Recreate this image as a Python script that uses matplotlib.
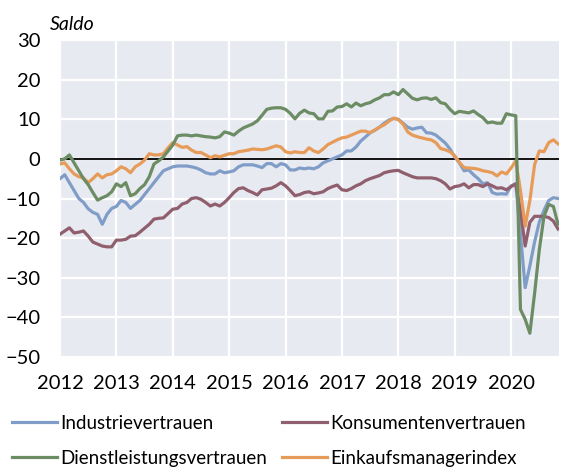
import numpy as np
import matplotlib
matplotlib.use('Agg')
import matplotlib.pyplot as plt

# monthly values Jan 2012 - Nov 2020
industrie = [
    -5, -4, -6, -8, -10, -11, -12.6, -13.5, -14, -16.5, -14, -12.5,
    -12, -10.5, -11, -12.5, -11.5, -10.5, -9, -7.5, -6, -4.5, -3, -2.5,
    -2, -1.8, -1.8, -1.8, -2.0, -2.3, -2.8, -3.5, -3.8, -3.8, -3.0, -3.5,
    -3.3, -3.0, -2.0, -1.5, -1.5, -1.5, -1.8, -2.2, -1.2, -1.2, -2.0, -1.2,
    -1.5, -2.8, -2.8, -2.3, -2.5, -2.3, -2.5, -2.0, -1.0, -0.5, 0.0, 0.5,
    1.0, 2.0, 2.0, 3.0, 4.5, 5.5, 6.6, 7.2, 8.0, 9.0, 9.8, 10.2,
    10.0, 9.0, 8.0, 7.5, 7.8, 8.0, 6.6, 6.5, 6.0, 5.0, 4.0, 2.5,
    0.5, -1.0, -3.0, -2.8, -4.0, -5.0, -6.3, -6.0, -8.5, -8.9, -8.8, -8.9,
    -6.8, -6.3, -19, -32.5, -27, -21, -16, -13, -10.5, -9.8, -10,
]
konsumenten = [
    -19, -18.2, -17.4, -18.7, -18.5, -18.2, -19.5, -21, -21.5, -22, -22.2, -22.2,
    -20.5, -20.5, -20.3, -19.5, -19.4, -18.5, -17.5, -16.5, -15.2, -15, -14.9, -13.8,
    -12.7, -12.5, -11.4, -11, -10, -9.8, -10.2, -11.0, -11.9, -11.4, -11.9, -11,
    -9.8, -8.5, -7.5, -7.3, -8, -8.5, -9.1, -7.8, -7.6, -7.4, -6.8, -6.0,
    -6.8, -8, -9.3, -9, -8.5, -8.3, -8.8, -8.6, -8.3, -7.5, -7, -6.6,
    -7.8, -8, -7.5, -6.8, -6.3, -5.5, -5.0, -4.6, -4.2, -3.5, -3.2, -3.0,
    -2.9, -3.5, -4.0, -4.5, -4.8, -4.8, -4.8, -4.8, -5.0, -5.5, -6.3, -7.6,
    -7.0, -6.8, -6.3, -7.3, -6.5, -6.5, -7.0, -6.3, -6.8, -7.4, -7.3, -7.8,
    -7.0, -6.3, -13, -22, -16, -14.5, -14.5, -14.5, -14.8, -15.7, -17.7,
]
dienstleistung = [
    -0.3, 0, 1, -1, -3, -5, -6.5, -8.5, -10.4, -9.8, -9.3, -8.3,
    -6.3, -7, -6.0, -9.3, -8.8, -7.5, -6.5, -4.5, -1.3, -0.5, 0.5, 2,
    3.5, 5.8, 6, 6, 5.8, 6, 5.8, 5.6, 5.5, 5.3, 5.6, 6.8,
    6.5, 6, 7, 7.8, 8.3, 8.8, 9.6, 11, 12.5, 12.8, 12.9, 12.9,
    12.5, 11.5, 10.1, 11.5, 12.3, 11.6, 11.4, 10.1, 10.1, 12.0, 12.1, 13.1,
    13.2, 13.9, 13.1, 14.1, 13.4, 13.9, 14.2, 14.9, 15.4, 16.2, 16.2, 16.9,
    16.2, 17.5, 16.4, 15.3, 14.9, 15.3, 15.4, 15.0, 15.4, 14.2, 13.9, 12.5,
    11.4, 12.0, 11.8, 11.6, 12.1, 11.2, 10.4, 9.1, 9.3, 9.0, 9.0, 11.4,
    11.1, 10.9, -38, -40.5, -44, -34, -23, -14.5, -11.5, -12, -16.5,
]
einkauf = [
    -1.3, -1.0, -2.5, -3.8, -4.5, -4.8, -6.0, -5.0, -3.8, -4.8, -4.0, -3.8,
    -3.0, -2.0, -2.5, -3.5, -2.0, -1.3, -0.3, 1.3, 1.0, 1.0, 1.3, 2.8,
    4.1, 3.5, 2.9, 3.1, 2.2, 1.6, 1.6, 1.0, 0.3, 0.8, 0.5, 0.9,
    1.3, 1.3, 1.8, 2.0, 2.2, 2.5, 2.4, 2.3, 2.5, 2.9, 3.3, 3.0,
    1.8, 1.5, 1.8, 1.6, 1.6, 2.8, 2.0, 1.6, 2.5, 3.6, 4.2, 4.8,
    5.3, 5.5, 6.0, 6.5, 7.0, 7.0, 6.6, 7.3, 8.0, 8.6, 9.5, 10.3,
    9.9, 8.8, 6.8, 6.0, 5.6, 5.3, 5.0, 4.8, 4.1, 2.6, 2.3, 1.8,
    0.8, -0.9, -2.2, -2.3, -2.4, -2.6, -3.0, -3.2, -3.5, -4.3, -3.3, -3.8,
    -2.3, -0.5, -8, -17, -10.5, -1.5, 2, 1.8, 4.1, 4.8, 3.8,
]
labels = ['Industrievertrauen', 'Konsumentenvertrauen',
          'Dienstleistungsvertrauen', 'Einkaufsmanagerindex']
years = list(range(2012, 2021))

x = 2012 + np.arange(len(industrie)) / 12

plt.rcParams['font.family'] = ['Lato', 'DejaVu Sans']

fig = plt.figure(figsize=(5.83, 4.74), dpi=100)
ax = fig.add_axes([60/583, 1 - 357/474, 499/583, 317/474])
ax.set_facecolor('#e8eaf1')
ax.grid(True, color='white', lw=1.6)
ax.set_axisbelow(True)
for s in ax.spines.values():
    s.set_visible(False)

ax.axhline(0, color='black', lw=1.3, zorder=2)
l1, = ax.plot(x, industrie, color='#809dc8', lw=2.3, zorder=3)
l2, = ax.plot(x, konsumenten, color='#905f6e', lw=2.3, zorder=3)
l4, = ax.plot(x, einkauf, color='#e69b59', lw=2.3, zorder=3)
l3, = ax.plot(x, dienstleistung, color='#6c8c64', lw=2.3, zorder=3)

ax.set_xlim(2012, 2020.85)
ax.set_ylim(-50, 30)
ax.set_xticks(years)
ax.set_xticklabels([str(y) for y in years])
ax.set_yticks(range(-50, 31, 10))
ax.tick_params(length=0, labelsize=14.5, pad=13)
ax.tick_params(axis='y', pad=14)

fig.text(50/583, 1 - 25/474, 'Saldo', style='italic', fontsize=14,
         va='center', ha='left')

kw = dict(loc='upper left', frameon=False, fontsize=13.5, borderpad=0,
          handlelength=2.4, handletextpad=0.2, labelspacing=0.95,
          borderaxespad=0)
fig.legend([l1, l3], [labels[0], labels[2]],
           bbox_to_anchor=(12/583, 1 - 415/474), **kw)
fig.legend([l2, l4], [labels[1], labels[3]],
           bbox_to_anchor=(282/583, 1 - 415/474), **kw)

fig.savefig('out.png', dpi=100)
